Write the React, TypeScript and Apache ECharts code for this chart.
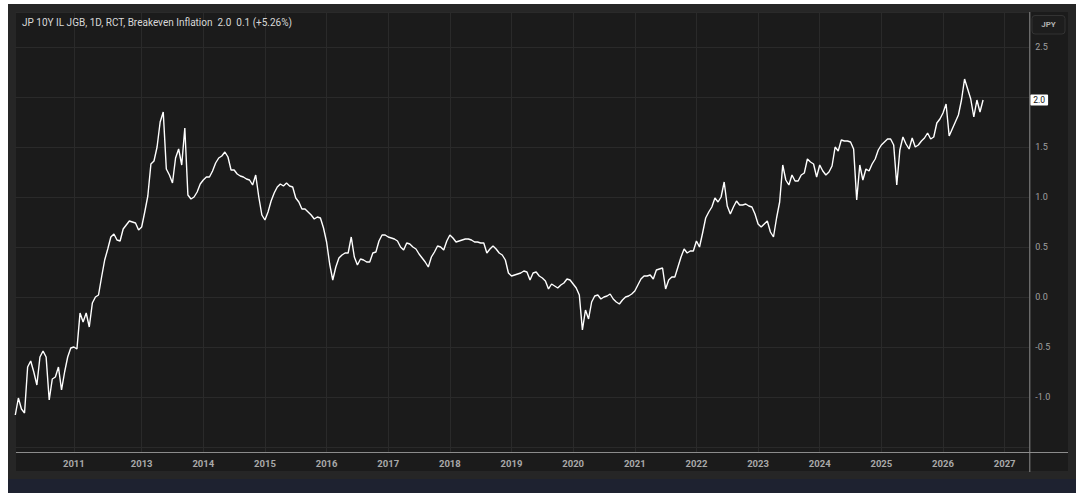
import React, { useEffect, useRef } from "react";
import * as echarts from "echarts";

const TITLE = "JP 10Y IL JGB, 1D, RCT, Breakeven Inflation";
const LAST_TEXT = "2.0";
const CHANGE_TEXT = "0.1 (+5.26%)";
const CURRENCY = "JPY";

// the time scale is bar-based: each year holds a number of equally spaced samples
const sampleYears = [2010, 2011, 2012, 2013, 2014, 2015, 2016, 2017, 2018, 2019, 2020, 2021, 2022, 2023, 2024, 2025, 2026, 2027];
const samplesPerYear = [19, 11, 11, 20, 20, 20, 20, 20, 20, 20, 20, 20, 20, 20, 20, 20, 20, 9];
const labeledYears = [2011, 2013, 2014, 2015, 2016, 2017, 2018, 2019, 2020, 2021, 2022, 2023, 2024, 2025, 2026, 2027];

const breakeven = [
  // 2010
  -1.18, -1.01, -1.12, -1.16, -0.7, -0.64, -0.75, -0.88, -0.6, -0.54, -0.6, -1.03, -0.82, -0.8, -0.7, -0.93, -0.75, -0.6, -0.51,
  // 2011-2012
  -0.5, -0.52, -0.16, -0.25, -0.16, -0.3, -0.06, 0.0, 0.02, 0.2, 0.37, 0.48, 0.6, 0.63, 0.57, 0.56, 0.68, 0.72, 0.76, 0.75, 0.74, 0.67,
  // 2013
  0.7, 0.85, 1.01, 1.33, 1.36, 1.5, 1.75, 1.85, 1.28, 1.22, 1.14, 1.39, 1.48, 1.32, 1.69, 1.02, 0.98, 1.0, 1.05, 1.13,
  // 2014
  1.17, 1.2, 1.2, 1.26, 1.34, 1.39, 1.41, 1.45, 1.4, 1.27, 1.27, 1.23, 1.21, 1.2, 1.18, 1.17, 1.12, 1.22, 1.0, 0.82,
  // 2015
  0.77, 0.85, 0.96, 1.04, 1.1, 1.13, 1.11, 1.14, 1.11, 1.1, 0.99, 0.95, 0.88, 0.88, 0.85, 0.82, 0.78, 0.8, 0.79, 0.69,
  // 2016
  0.55, 0.33, 0.17, 0.3, 0.39, 0.42, 0.44, 0.44, 0.6, 0.4, 0.32, 0.38, 0.37, 0.35, 0.35, 0.44, 0.45, 0.56, 0.62, 0.62,
  // 2017
  0.6, 0.59, 0.58, 0.56, 0.5, 0.47, 0.54, 0.53, 0.5, 0.48, 0.43, 0.39, 0.35, 0.3, 0.4, 0.45, 0.51, 0.5, 0.47, 0.56,
  // 2018
  0.62, 0.59, 0.55, 0.56, 0.57, 0.58, 0.58, 0.57, 0.55, 0.55, 0.54, 0.54, 0.44, 0.48, 0.51, 0.48, 0.44, 0.42, 0.37, 0.24,
  // 2019
  0.21, 0.22, 0.23, 0.24, 0.26, 0.25, 0.17, 0.24, 0.25, 0.21, 0.19, 0.16, 0.08, 0.13, 0.11, 0.09, 0.12, 0.14, 0.18, 0.17,
  // 2020
  0.13, 0.09, 0.02, -0.33, -0.13, -0.22, -0.05, 0.01, 0.02, -0.02, 0.0, 0.01, 0.03, -0.02, -0.05, -0.07, -0.03, 0.0, 0.01, 0.03,
  // 2021
  0.06, 0.12, 0.18, 0.21, 0.21, 0.22, 0.18, 0.27, 0.28, 0.29, 0.08, 0.17, 0.2, 0.2, 0.3, 0.4, 0.48, 0.44, 0.46, 0.46,
  // 2022
  0.56, 0.5, 0.64, 0.79, 0.85, 0.9, 0.99, 0.95, 1.0, 1.15, 0.91, 0.83, 0.9, 0.96, 0.92, 0.92, 0.93, 0.91, 0.9, 0.83,
  // 2023
  0.73, 0.7, 0.73, 0.76, 0.65, 0.6, 0.79, 0.95, 1.32, 1.17, 1.12, 1.22, 1.16, 1.16, 1.22, 1.24, 1.38, 1.35, 1.33, 1.2,
  // 2024
  1.32, 1.26, 1.22, 1.25, 1.31, 1.5, 1.46, 1.57, 1.56, 1.56, 1.55, 1.48, 0.97, 1.32, 1.17, 1.28, 1.26, 1.33, 1.38, 1.47,
  // 2025
  1.52, 1.55, 1.58, 1.58, 1.52, 1.12, 1.47, 1.6, 1.53, 1.48, 1.59, 1.5, 1.52, 1.56, 1.59, 1.64, 1.58, 1.6, 1.74, 1.78,
  // 2026
  1.84, 1.93, 1.61, 1.68, 1.75, 1.82, 1.97, 2.18, 2.08, 1.98, 1.8, 1.97, 1.85, 1.97,
];

const FONT = "Roboto, 'Liberation Sans', sans-serif";

export default function App() {
  const ref = useRef<HTMLDivElement>(null);

  useEffect(() => {
    if (!ref.current) return;
    const chart = echarts.init(ref.current, undefined, { renderer: "svg" });

    const categories: string[] = [];
    const yearStart = new Set<number>();
    sampleYears.forEach((y, j) => {
      const n = samplesPerYear[j];
      for (let k = 0; k < n; k++) {
        if (k === 0 && labeledYears.includes(y)) yearStart.add(categories.length);
        const d = new Date(Date.UTC(y, 0, 1) + (k / n) * 365 * 86400000);
        categories.push(d.toISOString().slice(0, 10));
      }
    });
    const data = categories.map((_, i) => (i < breakeven.length ? breakeven[i] : null));
    const lastValue = breakeven[breakeven.length - 1];

    const W = 1068;
    const gridLeft = 7.3;
    const gridRight = 46.7;
    const gridTop = 8;
    const gridBottom = 41;
    const axisX = W - gridRight;
    const axisY = 489 - gridBottom;

    chart.setOption({
      animation: false,
      backgroundColor: "transparent",
      textStyle: { fontFamily: FONT },
      grid: { left: gridLeft, right: gridRight, top: gridTop, bottom: gridBottom, containLabel: false },
      xAxis: {
        type: "category",
        data: categories,
        boundaryGap: false,
        axisLine: { show: false },
        axisTick: { show: false },
        axisLabel: {
          interval: (i: number) => yearStart.has(i),
          formatter: (v: string) => v.slice(0, 4),
          color: "#a9a9a9",
          fontSize: 9.5,
          fontWeight: "bold",
          fontFamily: FONT,
          margin: 6,
        },
        splitLine: {
          show: true,
          interval: (i: number) => yearStart.has(i),
          lineStyle: { color: "#2a2a2a", width: 1 },
        },
      },
      yAxis: {
        type: "value",
        position: "right",
        min: -1.55,
        max: 2.85,
        splitNumber: 9,
        minInterval: 0.5,
        maxInterval: 0.5,
        axisLine: { show: false },
        axisTick: { show: false },
        axisLabel: {
          color: "#a0a0a0",
          fontSize: 9,
          fontFamily: FONT,
          margin: 6,
          formatter: (v: number) =>
            v >= -1.01 && v <= 2.51 && Math.abs(v - lastValue) > 0.15 ? v.toFixed(1) : "",
        },
        splitLine: { show: true, lineStyle: { color: "#2a2a2a", width: 1 } },
      },
      series: [
        {
          type: "line",
          data,
          symbol: "none",
          showSymbol: false,
          connectNulls: false,
          clip: false,
          lineStyle: { color: "#ffffff", width: 1.4 },
          markLine: {
            silent: true,
            symbol: "none",
            lineStyle: { color: "rgba(0,0,0,0)", width: 0, type: "solid" },
            data: [{ yAxis: lastValue }],
            label: {
              show: true,
              position: "end",
              distance: 1,
              opacity: 1,
              formatter: () => lastValue.toFixed(1),
              backgroundColor: "#ffffff",
              color: "#111111",
              fontSize: 8.5,
              fontFamily: FONT,
              padding: [1, 3, 1, 3],
              borderRadius: 1,
            },
          },
        },
      ],
      graphic: [
        {
          type: "line",
          silent: true,
          shape: { x1: 8, y1: axisY + 0.5, x2: 1060, y2: axisY + 0.5 },
          style: { stroke: "#8c8c8c", lineWidth: 1 },
          z: 10,
        },
        {
          type: "line",
          silent: true,
          shape: { x1: axisX + 0.5, y1: 8, x2: axisX + 0.5, y2: 468 },
          style: { stroke: "#8c8c8c", lineWidth: 1 },
          z: 10,
        },
        {
          type: "text",
          left: 14,
          top: 13.5,
          style: {
            text: `${TITLE}  ${LAST_TEXT}  ${CHANGE_TEXT}`,
            fill: "#d8d8d8",
            font: `10px ${FONT}`,
          },
          z: 10,
        },
        {
          type: "rect",
          silent: true,
          shape: { x: 1024, y: 11.5, width: 33, height: 18.5, r: 3 },
          style: { fill: "#1d1d1d", stroke: "#333333", lineWidth: 1 },
          z: 10,
        },
        {
          type: "text",
          silent: true,
          x: 1040.5,
          y: 20.75,
          style: {
            text: CURRENCY,
            fill: "#b0b0b0",
            font: `bold 8px ${FONT}`,
            align: "center",
            verticalAlign: "middle",
          },
          z: 11,
        },
      ],
    });

    return () => chart.dispose();
  }, []);

  return (
    <div style={{ position: "absolute", left: 8, top: 4, width: 1068, height: 489, background: "#262626", overflow: "hidden" }}>
      <div style={{ position: "absolute", left: 8, top: 8, width: 1052, height: 459, background: "#1b1b1b" }} />
      <div style={{ position: "absolute", left: 0, top: 475, width: 1068, height: 14, background: "#1e2230" }} />
      <div ref={ref} style={{ position: "absolute", left: 0, top: 0, width: 1068, height: 489 }} />
    </div>
  );
}
